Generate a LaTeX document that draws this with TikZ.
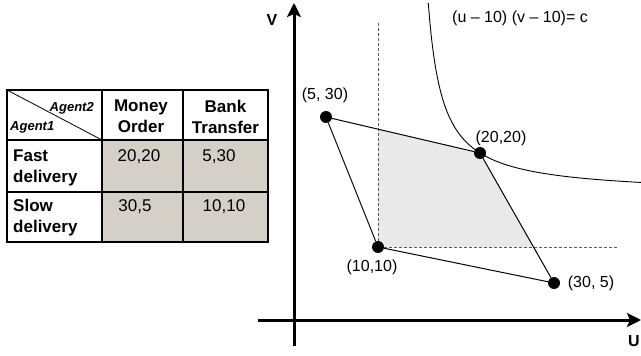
\documentclass[tikz,border=0pt]{standalone}
\usepackage{fontspec}
\setmainfont{Liberation Sans}
\usetikzlibrary{arrows.meta}
\definecolor{cellgray}{RGB}{212,208,200}
\definecolor{shadegray}{RGB}{233,233,233}
\definecolor{dashgray}{RGB}{90,90,90}
\tikzset{
  lbl/.style={font=\fontsize{16}{19}\selectfont, inner sep=0pt},
  hdr/.style={font=\fontsize{17}{21}\selectfont\bfseries, align=center, inner sep=0pt},
  rowh/.style={font=\fontsize{17}{21}\selectfont\bfseries, align=left, inner sep=0pt, anchor=west},
  num/.style={font=\fontsize{17}{21}\selectfont, inner sep=0pt},
  agent/.style={font=\fontsize{13}{15}\selectfont\bfseries\itshape, inner sep=0pt},
  dot/.style={circle, fill=black, minimum size=12pt, inner sep=0pt},
  edgeline/.style={line width=1pt},
  axisline/.style={line width=3pt, -{Stealth[length=14pt,width=14pt,inset=3pt]}},
  dashline/.style={line width=1pt, dashgray, dash pattern=on 3pt off 2pt},
  curve/.style={line width=0.9pt}
}
\begin{document}
\begin{tikzpicture}[x=1pt,y=-1pt]
\useasboundingbox (0,0) rectangle (641,356);
% ---------- table ----------
\fill[cellgray] (102,140) rectangle (268,242);
\draw[line width=1.2pt] (102,90) -- (102,242) (183,90) -- (183,242)
  (7,140) -- (268,140) (7,192) -- (268,192);
\draw[line width=0.8pt] (7,90) -- (102,140);
\draw[line width=2.2pt] (7,90) rectangle (268,242);
\node[agent, anchor=east] (ag2) at (94,108) {Agent2};
\node[agent, anchor=west] (ag1) at (10,127) {Agent1};
\node[hdr] (mo) at (141,116.5) {Money\\Order};
\node[hdr] (bt) at (225.5,116.5) {Bank\\Transfer};
\node[rowh] (fd) at (13,167.5) {Fast\\delivery};
\node[rowh] (sd) at (13,217.5) {Slow\\delivery};
\node[num] (c11) at (139,157) {20,20};
\node[num] (c12) at (219,157) {5,30};
\node[num] (c21) at (135,207) {30,5};
\node[num] (c22) at (224,207) {10,10};
% ---------- graph ----------
\coordinate (q1) at (378,129);
\coordinate (q2) at (480,153);
\coordinate (q3) at (533.5,247);
\coordinate (q4) at (378,247);
\fill[shadegray] (q1) -- (q2) -- (q3) -- (q4) -- cycle;
\coordinate (dtop) at (378,23);
\coordinate (dend) at (617,247);
\draw[dashline] (dtop) -- (q4) -- (dend);
% hyperbola
\draw[curve] plot[smooth, domain=428.3:460, samples=80, variable=\x] ({\x},{194.5-2739/(\x-414)});
\draw[curve] plot[smooth, domain=460:641, samples=80, variable=\x] ({\x},{194.5-2739/(\x-414)});
% axes
\coordinate (vbot) at (294,346);
\coordinate (vtip) at (294,3);
\coordinate (uleft) at (258,320);
\coordinate (utip) at (641,320);
\draw[axisline] (vbot) -- (vtip);
\draw[axisline] (uleft) -- (utip);
\node[lbl, font=\fontsize{16}{19}\selectfont\bfseries] (lv) at (272,20) {V};
\node[lbl, font=\fontsize{16}{19}\selectfont\bfseries] (lu) at (634,341) {U};
% points
\node[dot] (p530) at (326,117) {};
\node[dot] (p2020) at (480,153) {};
\node[dot] (p1010) at (378,247) {};
\node[dot] (p305) at (554,283) {};
\draw[edgeline] (p530) -- (p2020);
\draw[edgeline] (p530) -- (p1010);
\draw[edgeline] (p1010) -- (p305);
\draw[edgeline] (p2020) -- (p305);
% labels
\node[lbl] (l530) at (325,95) {(5, 30)};
\node[lbl] (l2020) at (501,138) {(20,20)};
\node[lbl] (l1010) at (372,267) {(10,10)};
\node[lbl] (l305) at (591,283) {(30, 5)};
\node[lbl] (leq) at (520,18) {(u – 10) (v – 10)= c};
\end{tikzpicture}
\end{document}
